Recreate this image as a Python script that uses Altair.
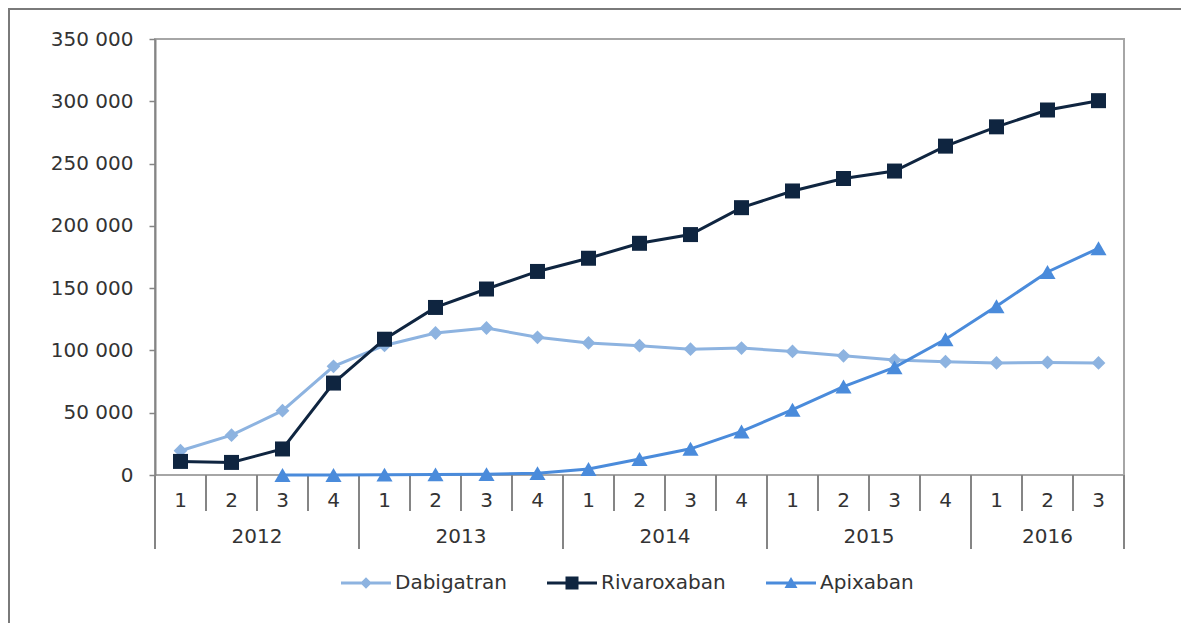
import altair as alt
import pandas as pd

# ---------------- data ----------------
drugs = ["Dabigatran", "Rivaroxaban", "Apixaban"]
years = ["2012", "2013", "2014", "2015", "2016"]
quarters_per_year = [4, 4, 4, 4, 3]
quarter_labels = ["1", "2", "3", "4", "1", "2", "3", "4", "1", "2", "3", "4",
                  "1", "2", "3", "4", "1", "2", "3"]

dabigatran = [19500, 32000, 51600, 87200, 104000, 114000, 118000, 110500, 106000,
              103800, 101000, 101900, 99200, 95700, 92300, 91000, 90000, 90400, 90000]
rivaroxaban = [10900, 10100, 20900, 73800, 109000, 134500, 149300, 163400, 174000,
               186000, 193000, 214600, 228000, 238000, 244000, 264000, 279500, 293000, 300500]
apixaban = [None, None, 0, 0, 300, 500, 700, 1500, 4800,
            12800, 21000, 35000, 52400, 71000, 86400, 109000, 135500, 163000, 182000]

colors = ["#8DB3E0", "#0F2540", "#4A8BDB"]
point_shapes = ["diamond", "square", "triangle-up"]
point_sizes = [190, 260, 210]
# legend symbols: a line with the marker in the middle (unit-box paths)
legend_shapes = [
    "M-1,-0.06L1,-0.06L1,0.06L-1,0.06Z M0,-0.23L0.23,0L0,0.23L-0.23,0Z",
    "M-1,-0.06L1,-0.06L1,0.06L-1,0.06Z M-0.26,-0.26L0.26,-0.26L0.26,0.26L-0.26,0.26Z",
    "M-1,-0.06L1,-0.06L1,0.06L-1,0.06Z M0,-0.24L0.26,0.2L-0.26,0.2Z",
]

y_ticks = [0, 50000, 100000, 150000, 200000, 250000, 300000, 350000]

# ---------------- tables ----------------
rows = []
for name, series in zip(drugs, [dabigatran, rivaroxaban, apixaban]):
    for i, v in enumerate(series):
        if v is not None:
            rows.append({"idx": i, "drug": name, "value": v})
df = pd.DataFrame(rows)

q_df = pd.DataFrame({"idx": list(range(len(quarter_labels))), "q": quarter_labels})

year_start = []
s = 0
for n in quarters_per_year:
    year_start.append(s)
    s += n
year_df = pd.DataFrame({
    "year": years,
    "center": [st + (n - 1) / 2 for st, n in zip(year_start, quarters_per_year)],
})
qsep_df = pd.DataFrame({"b": [i - 0.5 for i in range(len(quarter_labels) + 1)]})
ysep_df = pd.DataFrame({"b": [st - 0.5 for st in year_start] + [s - 0.5]})

W, H = 969, 436
FONT = "DejaVu Sans"
TXT = "#333333"
GRID = "#858585"

xscale = alt.Scale(domain=[-0.5, len(quarter_labels) - 0.5], nice=False, zero=False)
yscale = alt.Scale(domain=[0, 350000], nice=False)

x_enc = alt.X("idx:Q", scale=xscale, axis=None)
y_enc = alt.Y(
    "value:Q",
    scale=yscale,
    axis=alt.Axis(
        values=y_ticks,
        labelExpr="replace(format(datum.value, ','), ',', ' ')",
        grid=False, title=None, tickSize=6, tickColor=GRID, tickWidth=1.5,
        domainColor=GRID, domainWidth=2, labelFont=FONT, labelFontSize=20,
        labelColor=TXT, labelPadding=16,
    ),
)

color_plain = alt.Color("drug:N", scale=alt.Scale(domain=drugs, range=colors), legend=None)

lines = alt.Chart(df).mark_line(strokeWidth=3).encode(
    x=x_enc, y=y_enc, color=color_plain, detail="drug:N"
)
points = alt.Chart(df).mark_point(filled=True, opacity=1).encode(
    x=x_enc, y=y_enc, color=color_plain,
    shape=alt.Shape("drug:N", scale=alt.Scale(domain=drugs, range=point_shapes), legend=None),
    size=alt.Size("drug:N", scale=alt.Scale(domain=drugs, range=point_sizes), legend=None),
)

legend_cfg = alt.Legend(
    orient="none", legendX=186, legendY=519, direction="horizontal", title=None,
    symbolSize=2500, symbolStrokeWidth=0, symbolOpacity=1, labelFont=FONT,
    labelFontSize=20, labelColor=TXT, labelOffset=4, columnPadding=40, padding=0,
)
legend_layer = alt.Chart(df).mark_point(filled=True, opacity=1).encode(
    color=alt.Color("drug:N", scale=alt.Scale(domain=drugs, range=colors), legend=legend_cfg),
    shape=alt.Shape("drug:N", scale=alt.Scale(domain=drugs, range=legend_shapes), legend=legend_cfg),
).transform_filter("false")

# category axis (quarters / years) drawn below the plot area
qsep = alt.Chart(qsep_df).mark_rule(color=GRID, strokeWidth=2).encode(
    x=alt.X("b:Q", scale=xscale, axis=None), y=alt.value(H), y2=alt.value(H + 36)
)
ysep = alt.Chart(ysep_df).mark_rule(color=GRID, strokeWidth=2).encode(
    x=alt.X("b:Q", scale=xscale, axis=None), y=alt.value(H), y2=alt.value(H + 74)
)
qtext = alt.Chart(q_df).mark_text(font=FONT, fontSize=20, color=TXT, baseline="middle").encode(
    x=alt.X("idx:Q", scale=xscale, axis=None), y=alt.value(H + 26), text="q:N"
)
ytext = alt.Chart(year_df).mark_text(font=FONT, fontSize=20, color=TXT, baseline="middle").encode(
    x=alt.X("center:Q", scale=xscale, axis=None), y=alt.value(H + 62), text="year:N"
)

frame = alt.Chart(pd.DataFrame({"a": [0]})).mark_rect(
    fill="transparent", stroke="#7A7A7A", strokeWidth=2
).encode(x=alt.value(-146), y=alt.value(-30), x2=alt.value(3000), y2=alt.value(3000))

chart = alt.layer(
    frame, qsep, ysep, qtext, ytext, lines, points, legend_layer
).resolve_scale(
    color="independent", shape="independent", size="independent"
).properties(
    width=W, height=H,
    autosize=alt.AutoSizeParams(type="none"),
    padding={"left": 147, "top": 31, "right": 57, "bottom": 148},
    background="white",
).configure_view(
    stroke="#A6A6A6", strokeWidth=2
)

chart.save("out.html", embed_options={"renderer": "svg", "actions": False})
